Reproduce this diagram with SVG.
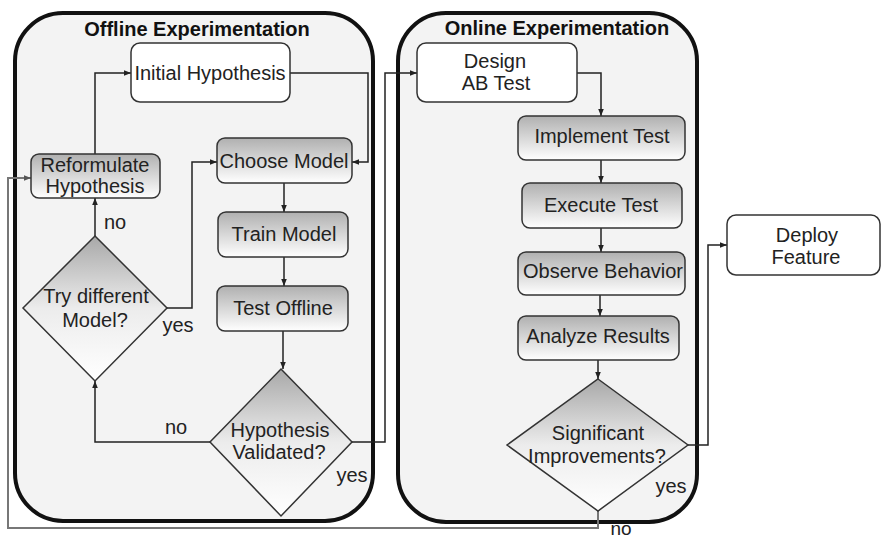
<svg xmlns="http://www.w3.org/2000/svg" width="882" height="540" viewBox="0 0 882 540">
<defs>
<linearGradient id="g" x1="0" y1="0" x2="0" y2="1"><stop offset="0" stop-color="#b0b0b0"/><stop offset="1" stop-color="#ffffff"/></linearGradient>
<linearGradient id="gd" x1="0" y1="0" x2="0" y2="1"><stop offset="0" stop-color="#a8a8a8"/><stop offset="0.5" stop-color="#ececec"/><stop offset="1" stop-color="#ffffff"/></linearGradient>
<marker id="ah" viewBox="0 0 10 10" refX="10" refY="5" markerWidth="7" markerHeight="7" markerUnits="userSpaceOnUse" orient="auto"><path d="M0,1 L10,5 L0,9 z" fill="#222"/></marker>
<marker id="ah2" viewBox="0 0 10 10" refX="10" refY="5" markerWidth="7" markerHeight="7" markerUnits="userSpaceOnUse" orient="auto"><path d="M0,1 L10,5 L0,9 z" fill="#555"/></marker>
</defs>
<style>
.cont { fill:#f3f3f3; stroke:#111; stroke-width:4 }
.box { stroke:#333; stroke-width:1.5 }
.w { fill:#fff }
.gr { fill:url(#g) }
.dm { fill:url(#gd); stroke:#333; stroke-width:1.5 }
.t { font-family:"Liberation Sans", Arial, sans-serif; font-size:20px; fill:#222; text-anchor:middle }
.title { font-weight:bold; font-size:20px; fill:#111 }
.c { fill:none; stroke:#222; stroke-width:1.5; marker-end:url(#ah) }
.c2 { fill:none; stroke:#777; stroke-width:2; marker-end:url(#ah2) }
</style>
<rect width="882" height="540" fill="#fff"/>
<g id="offline">
<rect class="cont" x="15" y="13" width="358" height="508" rx="48"/>
<text class="t title" x="197" y="36">Offline Experimentation</text>
</g>
<g id="online">
<rect class="cont" x="398" y="13" width="299" height="509" rx="48"/>
<text class="t title" x="557" y="35">Online Experimentation</text>
</g>
<g id="connectors">
<path class="c2" d="M598,511 V528 H8 V178 H31"/>
<path class="c" d="M95,154 V73 H131"/>
<path class="c" d="M290,73 H368 V162 H352"/>
<path class="c" d="M284,183 V212"/>
<path class="c" d="M284,257 V286"/>
<path class="c" d="M283,331 V369"/>
<path class="c" d="M167,308 H192 V162 H217"/>
<path class="c" d="M95,236 V198"/>
<path class="c" d="M210,442 H95 V381"/>
<path class="c" d="M352,442 H385 V73 H417"/>
<path class="c" d="M577,73 H601 V116"/>
<path class="c" d="M601,160 V183"/>
<path class="c" d="M601,228 V252"/>
<path class="c" d="M600,295 V316"/>
<path class="c" d="M598,360 V379"/>
<path class="c" d="M688,445 H708 V245 H727"/>
<text class="t" x="115" y="229">no</text>
<text class="t" x="178" y="332">yes</text>
<text class="t" x="176" y="434">no</text>
<text class="t" x="352" y="482">yes</text>
<text class="t" x="671" y="493">yes</text>
<text class="t" x="621" y="535" style="font-size:19px">no</text>
</g>
<g id="initial"><rect class="box w" x="131" y="43" width="159" height="59" rx="9"/><text class="t" x="210" y="80">Initial Hypothesis</text></g>
<g id="choose"><rect class="box gr" x="217" y="138" width="135" height="45" rx="8"/><text class="t" x="284" y="168">Choose Model</text></g>
<g id="reformulate"><rect class="box gr" x="31" y="154" width="129" height="44" rx="8"/><text class="t" x="95" y="172">Reformulate</text><text class="t" x="95" y="193">Hypothesis</text></g>
<g id="train"><rect class="box gr" x="218" y="212" width="130" height="45" rx="8"/><text class="t" x="284" y="241">Train Model</text></g>
<g id="testoffline"><rect class="box gr" x="217" y="286" width="131" height="45" rx="8"/><text class="t" x="283" y="315">Test Offline</text></g>
<g id="trydifferent"><polygon class="dm" points="95,236 167,308 95,381 23,308"/><text class="t" x="96" y="303">Try different</text><text class="t" x="95" y="327">Model?</text></g>
<g id="validated"><polygon class="dm" points="281,369 352,442 281,516 210,442"/><text class="t" x="280" y="437">Hypothesis</text><text class="t" x="279" y="459">Validated?</text></g>
<g id="design"><rect class="box w" x="417" y="43" width="160" height="59" rx="9"/><text class="t" x="495" y="68">Design</text><text class="t" x="496" y="90">AB Test</text></g>
<g id="implement"><rect class="box gr" x="518" y="116" width="167" height="44" rx="8"/><text class="t" x="602" y="143">Implement Test</text></g>
<g id="execute"><rect class="box gr" x="522" y="183" width="160" height="45" rx="8"/><text class="t" x="601" y="212">Execute Test</text></g>
<g id="observe"><rect class="box gr" x="518" y="252" width="167" height="43" rx="8"/><text class="t" x="603" y="278">Observe Behavior</text></g>
<g id="analyze"><rect class="box gr" x="518" y="316" width="161" height="44" rx="8"/><text class="t" x="598" y="343">Analyze Results</text></g>
<g id="significant"><polygon class="dm" points="598,379 688,445 598,511 507,445"/><text class="t" x="598" y="440">Significant</text><text class="t" x="597" y="463">Improvements?</text></g>
<g id="deploy"><rect class="box w" x="727" y="215" width="153" height="60" rx="9"/><text class="t" x="807" y="242">Deploy</text><text class="t" x="806" y="264">Feature</text></g>
</svg>
